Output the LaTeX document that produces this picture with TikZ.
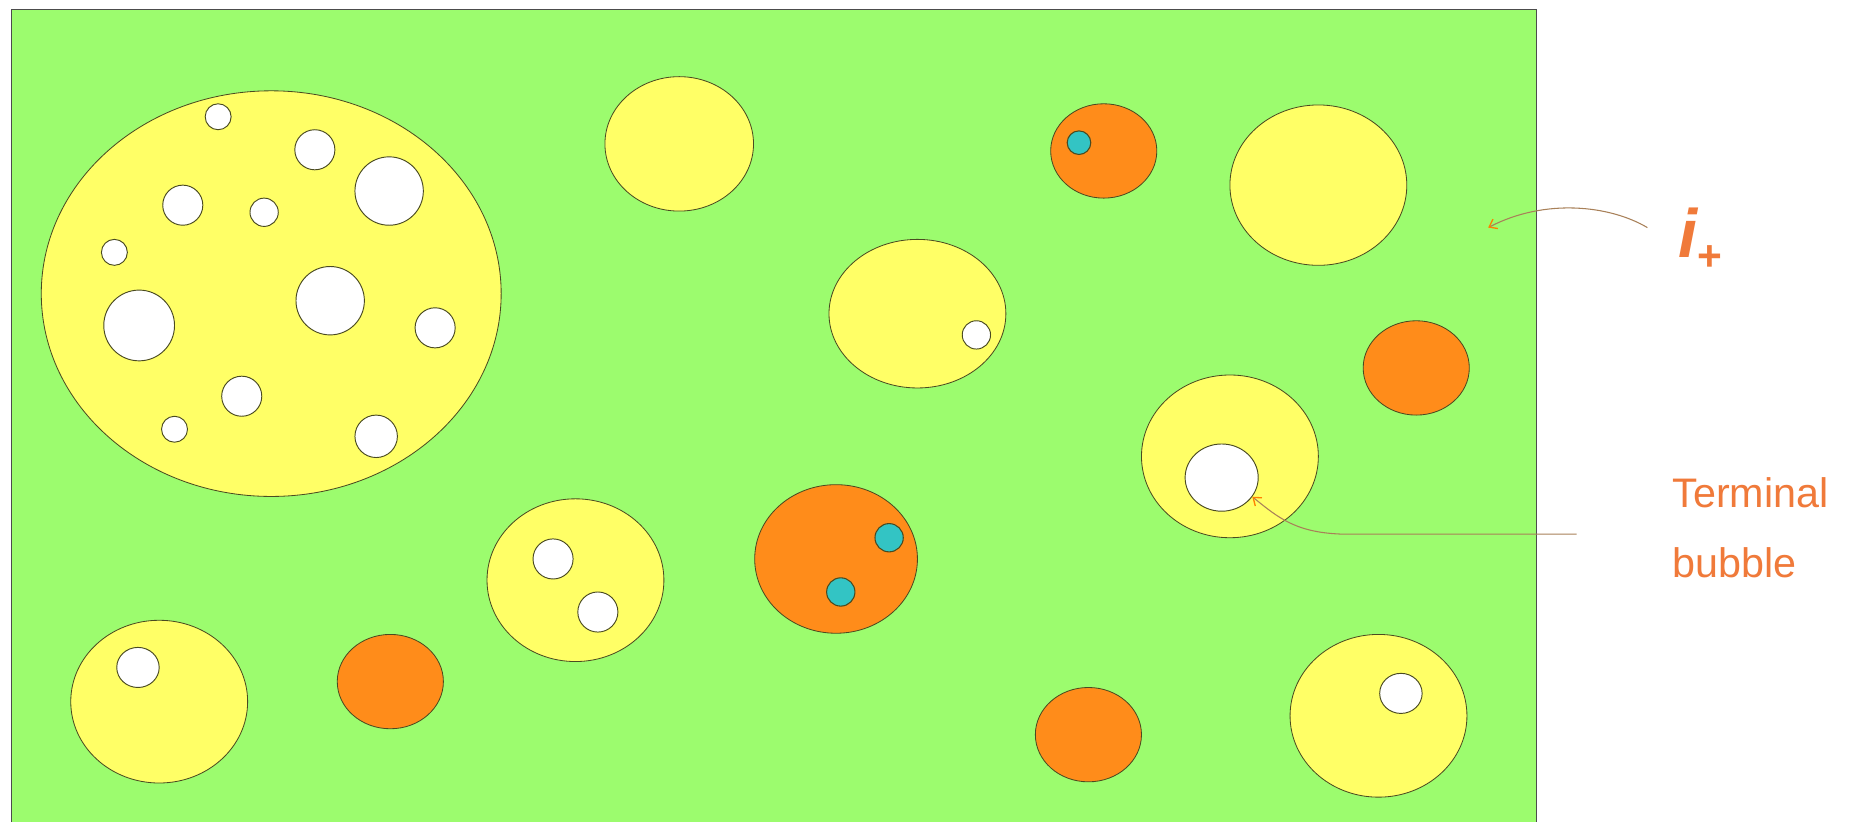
\documentclass[tikz,border=0pt]{standalone}
\usepackage{fontspec}
\setmainfont{Liberation Sans}
\usetikzlibrary{shapes.geometric,arrows.meta}
\definecolor{bg}{HTML}{9CFC6E}
\definecolor{yel}{HTML}{FFFF66}
\definecolor{org}{HTML}{FF8C1A}
\definecolor{cya}{HTML}{33C4C4}
\definecolor{edge}{HTML}{4A4A20}
\definecolor{txt}{HTML}{F07A3A}
\definecolor{arrline}{HTML}{A88058}
\tikzset{
  yb/.style={fill=yel,draw=edge,line width=0.7pt},
  ob/.style={fill=org,draw=edge,line width=0.7pt},
  hole/.style={fill=white,draw=edge,line width=0.8pt},
  cy/.style={fill=cya,draw=edge,line width=0.9pt},
  elnode/.style={ellipse,inner sep=0pt},
  arr/.style={draw=arrline,line width=0.9pt,-{Straight Barb[length=6pt,width=9pt,line width=1.1pt,color=orange]}},
  lbl/.style={text=txt,inner sep=0pt}
}
\begin{document}
\begin{tikzpicture}[x=1pt,y=-1pt]
\useasboundingbox (0,0) rectangle (1568,697);
\fill[white] (0,0) rectangle (1568,697);
% background
\path[fill=bg,draw=black!70,line width=0.7pt] (10,8) rectangle (1303,699);
% big cheese bubble
\path[yb] (230,249) ellipse [x radius=195,y radius=172];
\foreach \x/\y/\r in {185/99/11,267/127/17,330/162/29,155/174/17,224/180/12,97/214/11,280/255/29,118/276/30,369/278/17,205/336/17,148/364/11,319/370/18}
  \path[hole] (\x,\y) ellipse [x radius=\r,y radius=\r];
% yellow bubbles
\path[yb] (576,122) ellipse [x radius=63,y radius=57];
\path[yb] (1118,157) ellipse [x radius=75,y radius=68];
\path[yb] (778,266) ellipse [x radius=75,y radius=63];
\path[hole] (828,284) ellipse [x radius=12,y radius=12];
\path[yb] (1043,387) ellipse [x radius=75,y radius=69];
\node[elnode,hole,minimum width=62pt,minimum height=57pt] (th) at (1036,405) {};
\path[yb] (488,492) ellipse [x radius=75,y radius=69];
\path[hole] (469,474) ellipse [x radius=17,y radius=17];
\path[hole] (507,519) ellipse [x radius=17,y radius=17];
\path[yb] (135,595) ellipse [x radius=75,y radius=69];
\path[hole] (117,566) ellipse [x radius=18,y radius=17];
\path[yb] (1169,607) ellipse [x radius=75,y radius=69];
\path[hole] (1188,588) ellipse [x radius=18,y radius=17];
% orange bubbles
\path[ob] (936,128) ellipse [x radius=45,y radius=40];
\path[cy] (915,121) ellipse [x radius=10,y radius=10];
\path[ob] (1201,312) ellipse [x radius=45,y radius=40];
\path[ob] (709,474) ellipse [x radius=69,y radius=63];
\path[cy] (754,456) ellipse [x radius=12,y radius=12];
\path[cy] (713,502) ellipse [x radius=12,y radius=12];
\path[ob] (331,578) ellipse [x radius=45,y radius=40];
\path[ob] (923,623) ellipse [x radius=45,y radius=40];
% labels
\node[lbl,anchor=base west] (ip) at (1423,218)
  {\fontsize{58}{58}\selectfont\bfseries\itshape i\raisebox{-11pt}{\fontsize{36}{36}\selectfont\bfseries\upshape +}};
\node[lbl,anchor=north west,align=left,font=\fontsize{35}{59}\selectfont] (tb) at (1418,405) {Terminal\\bubble};
\coordinate (ipstart) at (1397,193);
\coordinate (ipend) at (1262,193);
\draw[arr] (ipstart) .. controls (1365,174) and (1310,168) .. (ipend);
\coordinate (tbstart) at (1337,453);
\draw[arr] (tbstart) -- (1140,453) .. controls (1100,452) and (1085,440) .. (th.-32);
\end{tikzpicture}
\end{document}
